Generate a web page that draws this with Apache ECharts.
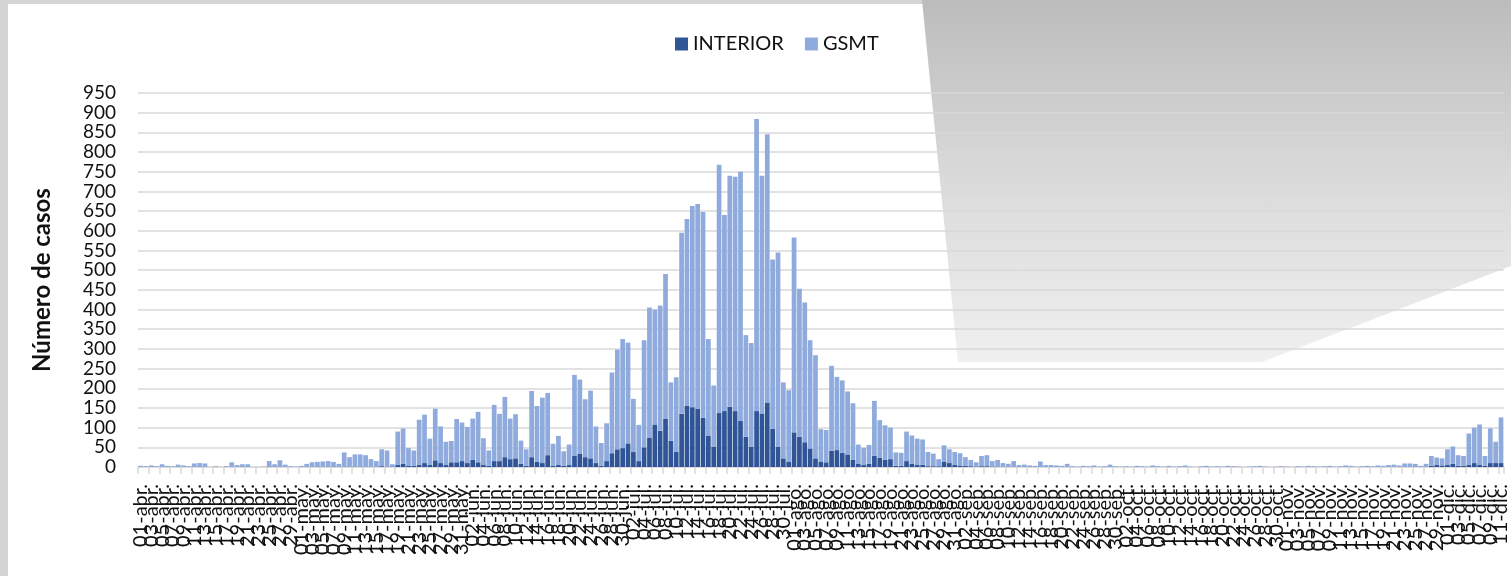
<!DOCTYPE html>
<html>
<head>
<meta charset="utf-8">
<script src="https://cdn.jsdelivr.net/npm/echarts@6/dist/echarts.min.js"></script>
<style>
  html, body { margin: 0; padding: 0; }
  body { width: 1511px; height: 576px; position: relative; overflow: hidden; background: #d4d4d4; }
  #panel { position: absolute; left: 8px; top: 4px; right: 0; bottom: 0; background: #ffffff; }
  #deco {
    position: absolute; left: 0; top: 0; width: 1511px; height: 576px;
    background: linear-gradient(to bottom, #bcbcbc 0px, #dadada 180px, #f0f0f0 362px);
    clip-path: polygon(922px 0px, 958px 362px, 1262px 362px, 1511px 266px, 1511px 0px);
  }
  #chart { position: absolute; left: 0; top: 0; width: 1511px; height: 576px; }
</style>
</head>
<body>
<div id="panel"></div>
<div id="deco"></div>
<div id="chart"></div>
<script>
// months shown on the axis (Spanish short names) and how many days of each are plotted
const months = ["abr.", "may.", "jun.", "jul.", "ago.", "sep.", "oct.", "nov.", "dic."];
const monthDays = [30, 31, 30, 31, 31, 30, 31, 30, 11];

const days = [];
months.forEach((m, i) => {
  for (let d = 1; d <= monthDays[i]; d++) {
    days.push(String(d).padStart(2, "0") + "-" + m);
  }
});

// daily cases, 01-abr .. 11-dic
const interior = [
  // abr
  0,0,0,0,0,0,0,0,0,0, 0,0,0,0,0,0,0,0,0,0, 0,0,0,0,1,0,1,0,0,0,
  // may
  0,0,0,1,0,0,1,0,1,0, 1,1,0,0,0,2,1,0,5,8, 3,3,5,10,5,17,10,5,12,12, 15,
  // jun
  10,18,12,5,3,15,15,25,20,22, 8,3,25,13,10,30,3,5,3,5, 28,33,25,22,10,3,15,35,45,48,
  // jul
  60,38,15,50,75,108,92,122,67,38, 135,155,152,148,125,80,52,137,142,153, 142,118,77,52,142,136,164,97,52,22, 14,
  // ago
  88,77,63,47,22,14,12,41,43,36, 32,18,9,5,8,29,24,18,20,3, 3,15,8,5,6,2,2,2,14,10, 5,
  // sep
  4,3,2,1,2,2,1,1,0,0, 1,0,0,0,0,1,0,0,0,0, 0,0,0,0,0,0,0,0,0,0,
  // oct
  0,0,0,0,0,0,0,0,0,0, 0,0,0,0,0,0,0,0,0,0, 0,0,0,0,0,0,0,0,0,0, 0,
  // nov
  0,0,0,0,0,0,0,0,0,0, 0,0,0,0,0,0,0,0,0,0, 0,0,0,0,0,0,0,3,5,4,
  // dic
  5,8,3,3,5,10,5,3,10,10, 10
];

const gsmt = [
  // abr
  3,2,4,2,7,3,2,6,4,2, 9,10,9,0,2,0,2,12,5,7, 7,0,0,1,14,7,16,6,2,1,
  // may
  3,8,12,12,14,15,12,8,36,25, 31,31,30,20,15,43,41,7,85,90, 45,39,115,123,67,131,93,59,54,110, 98,
  // jun
  92,105,128,68,39,143,120,153,103,112, 59,42,168,142,166,158,56,74,37,52, 206,189,147,172,93,58,96,205,253,277,
  // jul
  256,135,92,272,330,292,318,368,148,190, 460,475,511,520,523,245,155,631,498,587, 595,632,258,263,742,604,681,430,493,193, 181,
  // ago
  495,376,355,275,262,82,82,216,186,184, 160,144,48,44,48,139,95,88,80,34, 33,75,72,67,64,36,32,18,41,35, 33,
  // sep
  31,22,16,11,26,28,14,17,10,8, 14,5,6,4,3,13,5,5,4,3, 8,2,1,3,2,4,1,2,6,2,
  // oct
  1,2,1,3,2,1,4,2,1,3, 1,2,4,1,0,2,3,1,2,1, 3,2,1,0,1,2,3,1,0,1, 2,
  // nov
  1,0,2,1,3,2,1,2,3,1, 2,4,3,1,2,3,2,4,3,5, 6,4,9,9,8,3,8,25,19,18,
  // dic
  40,44,27,25,80,90,103,25,88,54, 116
];

const yTicks = { min: 0, max: 950, interval: 50 };

const font = "Lato, 'Open Sans', sans-serif";
const gridGray = "#d9d9d9";

const chart = echarts.init(document.getElementById("chart"));

chart.setOption({
  backgroundColor: "transparent",
  animation: false,
  textStyle: { fontFamily: font },
  legend: {
    left: 670,
    top: 29,
    icon: "rect",
    itemWidth: 13,
    itemHeight: 13,
    itemGap: 21,
    textStyle: { fontFamily: font, fontSize: 20, color: "#111" },
    data: ["INTERIOR", "GSMT"],
  },
  grid: { left: 138, right: 6, top: 93, bottom: 109, containLabel: false },
  xAxis: {
    type: "category",
    data: days,
    boundaryGap: true,
    axisLine: { lineStyle: { color: gridGray, width: 1.5 } },
    axisTick: { show: true, interval: 1, length: 7, lineStyle: { color: gridGray, width: 1.5 } },
    axisLabel: {
      // every label is laid out, only every second day gets text (Excel shows each 2nd date)
      interval: 0,
      rotate: 90,
      margin: 17,
      formatter: (v, i) => (i % 2 === 0 ? v : ""),
      fontFamily: font,
      fontSize: 20,
      color: "#111",
    },
  },
  yAxis: {
    type: "value",
    min: yTicks.min,
    max: yTicks.max,
    interval: yTicks.interval,
    name: "Número de casos",
    nameLocation: "middle",
    nameGap: 84,
    nameRotate: 90,
    nameTextStyle: { fontFamily: font, fontSize: 24, fontWeight: "bold", color: "#111" },
    axisLine: { show: false },
    axisTick: { show: false },
    axisLabel: {
      fontFamily: font,
      fontSize: 19,
      color: "#111",
      margin: 22,
      showMinLabel: true,
      showMaxLabel: true,
    },
    splitLine: { lineStyle: { color: gridGray, width: 1.5 } },
  },
  series: [
    {
      name: "INTERIOR",
      type: "bar",
      stack: "casos",
      data: interior,
      barCategoryGap: "12%",
      itemStyle: { color: "#2f5597" },
    },
    {
      name: "GSMT",
      type: "bar",
      stack: "casos",
      data: gsmt,
      barCategoryGap: "12%",
      itemStyle: { color: "#8faadc" },
    },
  ],
});
</script>
</body>
</html>
